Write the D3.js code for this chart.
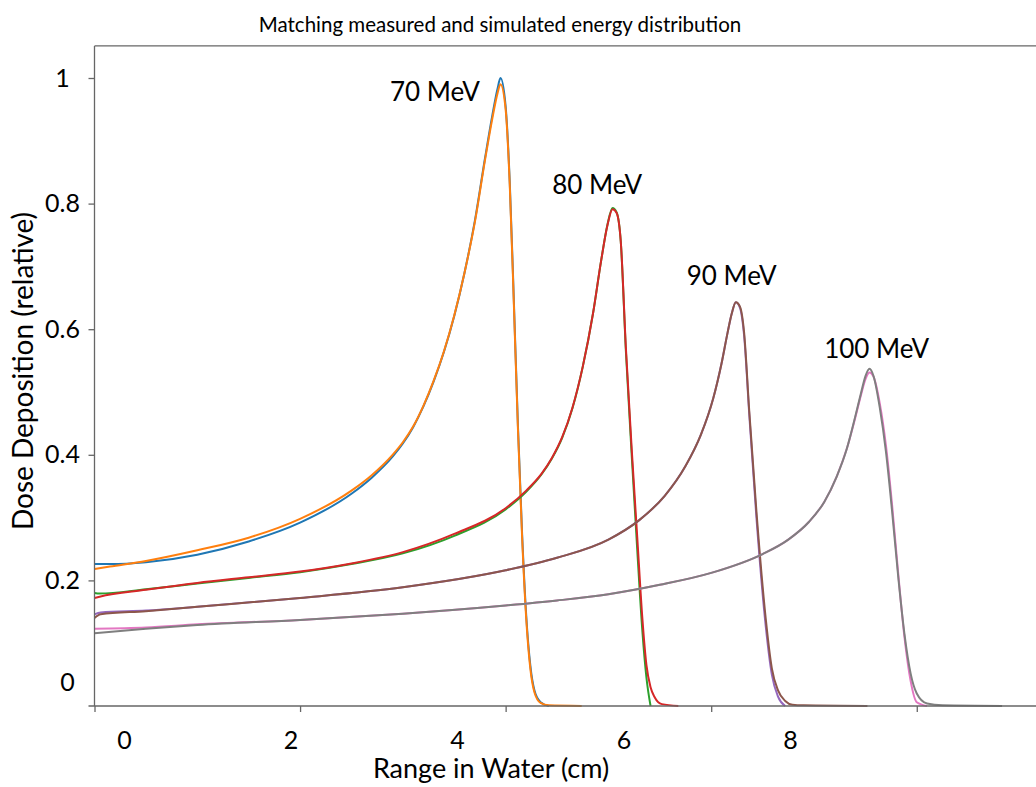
<!DOCTYPE html>
<meta charset="utf-8">
<style>
body { margin: 0; background: #fff; }
text { font-family: Lato, "Open Sans", sans-serif; fill: #000; }
.curve { fill: none; stroke-width: 2; stroke-linejoin: round; }
.axis path, .axis line { stroke: #666; stroke-width: 1.3; }
</style>
<body>
<script src="https://d3js.org/d3.v7.min.js"></script>
<script>
var width = 1036;
var height = 787;

// depth in water (cm) and relative dose
var d70 = [0, 0.15, 0.5, 1.0, 1.5, 2.0, 2.5, 2.7, 2.9, 3.0, 3.1, 3.2, 3.3, 3.4, 3.5, 3.6, 3.7, 3.8, 3.87, 3.92, 3.95, 4.0, 4.04, 4.08, 4.12, 4.16, 4.2, 4.24, 4.28, 4.34, 4.42, 4.74];
var meas70 = [0.226, 0.226, 0.229, 0.241, 0.262, 0.292, 0.338, 0.364, 0.397, 0.418, 0.444, 0.477, 0.517, 0.564, 0.621, 0.69, 0.772, 0.873, 0.94, 0.982, 1.0, 0.955, 0.835, 0.645, 0.445, 0.275, 0.145, 0.065, 0.025, 0.006, 0, null];
var sim70 = [0.218, 0.222, 0.231, 0.248, 0.268, 0.298, 0.343, 0.368, 0.4, 0.42, 0.445, 0.478, 0.518, 0.565, 0.622, 0.69, 0.77, 0.87, 0.935, 0.975, 0.99, 0.95, 0.83, 0.64, 0.44, 0.27, 0.14, 0.06, 0.022, 0.005, 0.001, 0];

var d80 = [0, 0.05, 0.5, 1.0, 1.5, 2.0, 2.5, 3.0, 3.5, 4.0, 4.2, 4.35, 4.45, 4.55, 4.65, 4.75, 4.85, 4.93, 4.99, 5.04, 5.08, 5.12, 5.17, 5.23, 5.28, 5.33, 5.37, 5.41, 5.45, 5.52, 5.68];
var meas80 = [0.18, 0.179, 0.186, 0.195, 0.204, 0.213, 0.226, 0.243, 0.271, 0.313, 0.341, 0.369, 0.394, 0.427, 0.474, 0.54, 0.625, 0.71, 0.766, 0.793, 0.786, 0.74, 0.565, 0.39, 0.25, 0.12, 0.045, 0, null, null, null];
var sim80 = [0.172, 0.174, 0.185, 0.196, 0.205, 0.214, 0.227, 0.245, 0.274, 0.315, 0.343, 0.37, 0.395, 0.428, 0.475, 0.54, 0.625, 0.71, 0.765, 0.791, 0.785, 0.74, 0.57, 0.4, 0.27, 0.14, 0.065, 0.03, 0.014, 0.003, 0];

var d90 = [0, 0.06, 0.5, 1.0, 2.0, 3.0, 4.0, 4.5, 5.0, 5.3, 5.55, 5.75, 5.9, 6.02, 6.1, 6.16, 6.2, 6.24, 6.28, 6.32, 6.37, 6.44, 6.53, 6.59, 6.65, 6.72, 6.79, 6.9, 7.52];
var meas90 = [0.146, 0.149, 0.152, 0.158, 0.172, 0.189, 0.216, 0.236, 0.265, 0.296, 0.335, 0.382, 0.432, 0.49, 0.545, 0.595, 0.625, 0.643, 0.634, 0.59, 0.465, 0.3, 0.128, 0.05, 0.015, 0, null, null, null];
var sim90 = [0.14, 0.146, 0.151, 0.158, 0.172, 0.189, 0.216, 0.236, 0.265, 0.296, 0.335, 0.382, 0.432, 0.49, 0.545, 0.595, 0.625, 0.643, 0.636, 0.595, 0.47, 0.31, 0.14, 0.06, 0.025, 0.008, 0.002, 0.001, 0];

var d100 = [0, 0.5, 1.0, 2.0, 3.0, 4.0, 4.5, 5.0, 5.5, 6.0, 6.5, 6.75, 6.95, 7.1, 7.22, 7.32, 7.4, 7.46, 7.5, 7.54, 7.58, 7.64, 7.7, 7.76, 7.82, 7.88, 7.94, 8.0, 8.1, 8.25, 8.83];
var meas100 = [0.123, 0.125, 0.13, 0.137, 0.147, 0.16, 0.168, 0.178, 0.193, 0.212, 0.242, 0.265, 0.293, 0.325, 0.365, 0.41, 0.458, 0.497, 0.52, 0.531, 0.524, 0.482, 0.415, 0.32, 0.21, 0.11, 0.04, 0.006, 0, null, null];
var sim100 = [0.116, 0.123, 0.129, 0.137, 0.147, 0.16, 0.168, 0.178, 0.193, 0.212, 0.242, 0.265, 0.293, 0.325, 0.365, 0.41, 0.46, 0.5, 0.525, 0.537, 0.525, 0.475, 0.405, 0.31, 0.205, 0.115, 0.052, 0.02, 0.004, 0.001, 0];

var energies = ["70 MeV", "80 MeV", "90 MeV", "100 MeV"];
var labelAt = [[3.75, 0.963], [4.89, 0.815], [6.2, 0.67], [7.61, 0.554]];

var xTicks = [0, 2, 4, 6, 8];
var yTicks = [0, 0.2, 0.4, 0.6, 0.8, 1];

// tab10 order: each energy = one curve pair
var series = [
  {depth: d70, dose: meas70, color: "#1f77b4"},
  {depth: d70, dose: sim70, color: "#ff7f0e"},
  {depth: d80, dose: meas80, color: "#2ca02c"},
  {depth: d80, dose: sim80, color: "#d62728"},
  {depth: d90, dose: meas90, color: "#9467bd"},
  {depth: d90, dose: sim90, color: "#8c564b"},
  {depth: d100, dose: meas100, color: "#e377c2"},
  {depth: d100, dose: sim100, color: "#7f7f7f"}
];

var svg = d3.select("body")
            .append("svg")
            .attr("width", width)
            .attr("height", height);

var x = d3.scaleLinear().domain([0, 9.16]).range([94.5, 1036]);
var y = d3.scaleLinear().domain([0, 1]).range([706, 78]);
// the tick labels of the figure sit on their own spacing, not under the ticks
var xLabel = d3.scaleLinear().domain([0, 8]).range([124, 790]);

// top frame line
svg.append("line")
   .attr("x1", x(0)).attr("x2", width)
   .attr("y1", y(1.051)).attr("y2", y(1.051))
   .attr("stroke", "#666").attr("stroke-width", 1.3);

var line = d3.line()
    .defined(function(d) { return d[1] != null; })
    .x(function(d) { return x(d[0]); })
    .y(function(d) { return y(d[1]); })
    .curve(d3.curveMonotoneX);

svg.append("g")
   .selectAll("path")
   .data(series)
   .enter()
   .append("path")
   .attr("class", "curve")
   .attr("stroke", function(d) { return d.color; })
   .attr("d", function(d) {
     return line(d.depth.map(function(v, i) { return [v, d.dose[i]]; }));
   });

// x axis: tick marks
var xAxis = svg.append("g")
   .attr("class", "axis")
   .attr("transform", "translate(0," + y(0) + ")")
   .call(d3.axisBottom(x).tickValues(xTicks).tickSize(6).tickFormat(""));
xAxis.select(".domain").attr("d", "M" + (x(0) - 6) + ",0H" + width);

// x axis: labels
var xText = svg.append("g")
   .attr("transform", "translate(0," + y(0) + ")")
   .call(d3.axisBottom(xLabel).tickValues(xTicks).tickSize(0).tickPadding(25)
     .tickFormat(d3.format("d")));
xText.select(".domain").remove();
xText.selectAll("text").style("font-size", "25px").attr("fill", "#000");

// y axis
var yAxis = svg.append("g")
   .attr("class", "axis")
   .attr("transform", "translate(" + x(0) + ",0)")
   .call(d3.axisLeft(y).tickValues(yTicks).tickSize(6)
     .tickFormat(function(d) { return d === 0 ? "0" : d === 1 ? "1" : d3.format(".1f")(d); }));
yAxis.select(".domain").attr("d", "M0," + y(1.051) + "V" + y(0));
yAxis.selectAll("text")
   .style("font-size", "25px")
   .attr("fill", "#000")
   .attr("text-anchor", "middle")
   .attr("x", -32);
yAxis.selectAll(".tick").filter(function(d) { return d === 0; })
   .call(function(t) {
     t.select("line").remove();
     t.select("text").attr("dy", "-0.62em").attr("x", -27);
   });

// curve labels
svg.append("g")
   .selectAll("text")
   .data(energies)
   .enter()
   .append("text")
   .attr("x", function(d, i) { return x(labelAt[i][0]); })
   .attr("y", function(d, i) { return y(labelAt[i][1]); })
   .attr("text-anchor", function(d, i) { return i === 0 ? "end" : "middle"; })
   .style("font-size", "26px")
   .text(function(d) { return d; });

svg.append("text")
   .attr("x", 500)
   .attr("y", 32)
   .attr("text-anchor", "middle")
   .style("font-size", "20.5px")
   .text("Matching measured and simulated energy distribution");

svg.append("text")
   .attr("x", 491)
   .attr("y", 778)
   .attr("text-anchor", "middle")
   .style("font-size", "27px")
   .text("Range in Water (cm)");

svg.append("text")
   .attr("transform", "translate(33,371) rotate(-90)")
   .attr("text-anchor", "middle")
   .style("font-size", "28px")
   .text("Dose Deposition (relative)");
</script>
</body>
